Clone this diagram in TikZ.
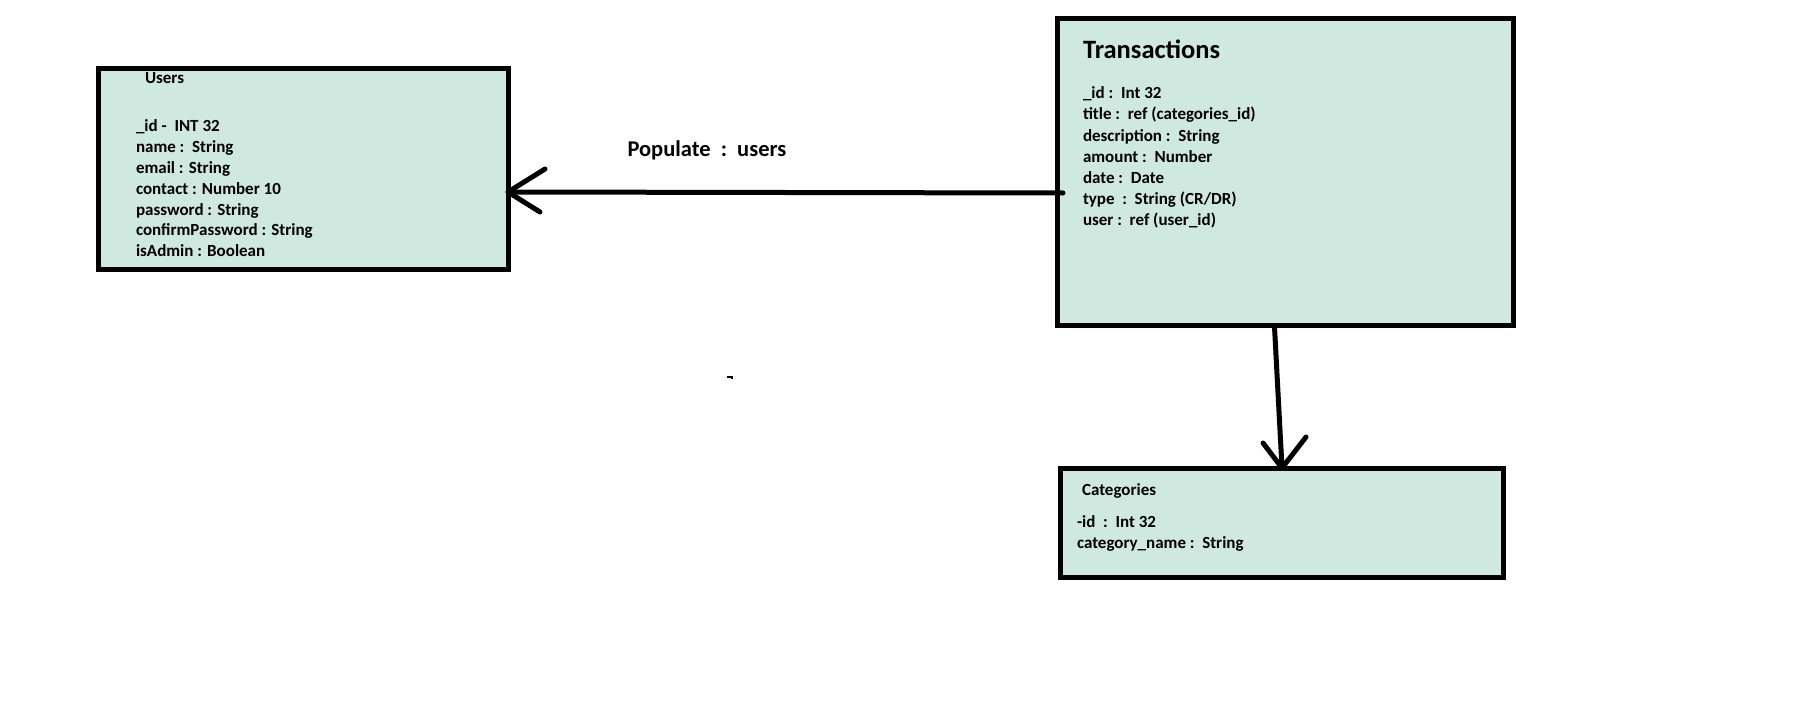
\documentclass[tikz,border=0pt]{standalone}
\usepackage{fontspec}
\setmainfont{Carlito}
\usetikzlibrary{calc}
\definecolor{tblfill}{RGB}{207,232,224}
\tikzset{
  tbl/.style={draw=black, fill=tblfill, line width=5pt, inner sep=0pt, outer sep=0pt, anchor=north west},
  fld/.style={anchor=base west, inner sep=0pt, outer sep=0pt, font=\fontsize{17}{20.8}\selectfont\bfseries},
  ttl/.style={anchor=base west, inner sep=0pt, outer sep=0pt, font=\fontsize{26.5}{32}\selectfont\bfseries},
  conn/.style={draw=black, line width=5pt, line cap=round, line join=round},
  lbl/.style={anchor=base west, inner sep=0pt, outer sep=0pt, font=\fontsize{22.5}{27}\selectfont\bfseries}
}
\begin{document}
\begin{tikzpicture}[x=1pt, y=-1pt]
\useasboundingbox[fill=white] (0,0) rectangle (1814,706);

% boxes
\node[tbl, minimum width=410pt, minimum height=201pt] (users) at (98.5,68.5) {};
\node[tbl, minimum width=456pt, minimum height=307pt] (trans) at (1057.5,18.5) {};
\node[tbl, minimum width=443pt, minimum height=109pt] (cats) at (1060.5,468.5) {};

% Users texts
\node[fld] (uh) at (145,84) {Users};
\foreach \t [count=\i] in {{\_id -\ \ INT 32},{name :\ \ String},{email : String},{contact : Number 10},{password : String},{confirmPassword : String},{isAdmin : Boolean}}
  \node[fld] (u\i) at (136,{131.7+20.85*(\i-1)}) {\t};

% Transactions texts
\node[ttl] (th) at (1083,58.3) {Transactions};
\foreach \t [count=\i] in {{\_id :\ \ Int 32},{title :\ \ ref (categories\_id)},{description :\ \ String},{amount :\ \ Number},{date :\ \ Date},{type\ \ :\ \ String (CR/DR)},{user :\ \ ref (user\_id)}}
  \node[fld] (t\i) at (1083,{99+21*(\i-1)}) {\t};

% Categories texts
\node[fld] (ch) at (1082,495) {Categories};
\node[fld] (c1) at (1077,527) {-id\ \ :\ \ Int 32};
\node[fld] (c2) at (1077,548) {category\_name :\ \ String};

% connector Transactions -> Users
\coordinate (ps) at (1063,193);
\coordinate (pt) at (508,192);
\draw[conn] (ps) -- (pt);
\draw[conn, line cap=round] ($(pt)+(37,-23)$) -- (pt) -- ($(pt)+(32,20)$);
\node[lbl] (plbl) at (627.5,156.7) {Populate\ \ :\ \ users};

% connector Transactions -> Categories
\coordinate (vs) at (1274.5,327);
\coordinate (vt) at (1282,468);
\draw[conn] (vs) -- (vt);
\draw[conn] ($(vt)+(-19,-25)$) -- (vt) -- ($(vt)+(24,-31)$);

% stray mark
\draw[line width=1.5pt] (727,377) -- (732,377) -- (732,379);
\end{tikzpicture}
\end{document}
